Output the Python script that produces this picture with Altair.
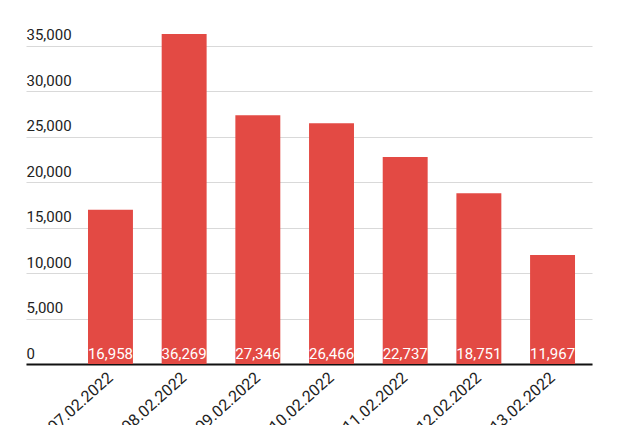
import altair as alt
import pandas as pd

dates = ["07.02.2022", "08.02.2022", "09.02.2022", "10.02.2022",
         "11.02.2022", "12.02.2022", "13.02.2022"]
values = [16958, 36269, 27346, 26466, 22737, 18751, 11967]

df = pd.DataFrame({"date": dates, "value": values})
df["label"] = [f"{v:,}" for v in values]

x_enc = alt.X("date:N", sort=dates, title=None,
              scale=alt.Scale(paddingInner=0.39, paddingOuter=0.536, align=0.785),
              axis=alt.Axis(labelAngle=-42, labelAlign="right", labelBaseline="middle",
                            labelFontSize=16, labelFont="Roboto", labelColor="#222",
                            labelPadding=11, ticks=False, domain=True,
                            domainColor="#111", domainWidth=2, grid=False))

bars = alt.Chart(df).mark_bar(color="#e34a44").encode(
    x=x_enc,
    y=alt.Y("value:Q", title=None,
            scale=alt.Scale(domain=[0, 40000], nice=False),
            axis=alt.Axis(values=[0, 5000, 10000, 15000, 20000, 25000, 30000, 35000, 40000],
                          labelExpr="datum.value == 40000 ? '' : format(datum.value, ',')",
                          labelAlign="left", labelBaseline="bottom", labelOffset=-3,
                          labelPadding=0, ticks=False, tickSize=0, domain=False,
                          labelFontSize=15, labelFont="Roboto", labelColor="#222",
                          gridColor="#d9d9d9", gridWidth=1)),
)

text = alt.Chart(df).mark_text(color="white", font="Roboto", fontSize=15,
                               baseline="bottom", dy=-2).encode(
    x=alt.X("date:N", sort=dates),
    y=alt.datum(0),
    text="label:N",
)

chart = (bars + text).properties(
    width=566, height=364,
    autosize=alt.AutoSizeParams(type="none"),
    padding={"left": 18, "top": -8, "right": 10, "bottom": 70},
).configure_view(stroke=None)

chart.save("out.html", embed_options={"renderer": "svg", "actions": False})
